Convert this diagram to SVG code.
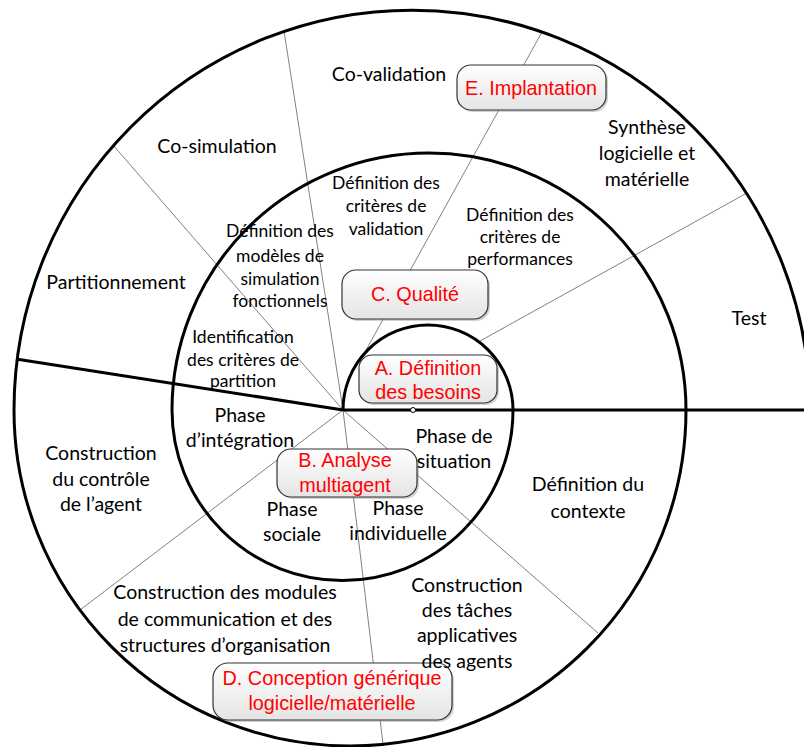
<svg xmlns="http://www.w3.org/2000/svg" width="804" height="747" viewBox="0 0 804 747">
<defs>
<linearGradient id="boxg" x1="0" y1="0" x2="0" y2="1">
<stop offset="0" stop-color="#ffffff"/>
<stop offset="1" stop-color="#e4e4e4"/>
</linearGradient>
</defs>
<style>
.thin{stroke:#808080;stroke-width:1;fill:none}
.thick{stroke:#000;stroke-width:3;fill:none}
.box{fill:url(#boxg);stroke:#333;stroke-width:1.2}
.shadow{fill:#9a9a9a;opacity:0.45}
.lbl{font-family:"Liberation Sans",Arial,sans-serif;font-size:19.8px;fill:#ff0000;text-anchor:middle}
.t{font-family:Lato,"Open Sans",sans-serif;font-size:19.5px;fill:#000;text-anchor:middle}
.m{font-family:Lato,"Open Sans",sans-serif;font-size:17.5px;fill:#000;text-anchor:middle}
</style>
<rect width="804" height="747" fill="#fff"/>
<g id="connectors">
<line class="thin" x1="343" y1="410" x2="113" y2="145"/>
<line class="thin" x1="343" y1="410" x2="284" y2="31"/>
<line class="thin" x1="542" y1="32" x2="360" y2="361"/>
<line class="thin" x1="747" y1="193" x2="480" y2="341"/>
<line class="thin" x1="343" y1="410" x2="80" y2="610"/>
<line class="thin" x1="343" y1="410" x2="383" y2="744"/>
<line class="thin" x1="343" y1="410" x2="598" y2="633"/>
<path class="thick" d="M343 410 A85 85 0 0 1 513 410 A170.5 170.5 0 0 1 172 410 A257 257 0 0 1 686 410 A336 336 0 0 1 14 410 A398 400 0 0 1 810 410"/>
<line class="thick" x1="343" y1="410" x2="806" y2="410"/>
<line class="thick" x1="343" y1="410" x2="16" y2="359"/>
<circle cx="413" cy="410" r="2.5" fill="#fff" stroke="#000" stroke-width="1"/>
</g>
<g id="nodeE">
<rect class="shadow" x="459" y="67" width="149" height="45" rx="14"/>
<rect class="box" x="457" y="65" width="149" height="45" rx="14"/>
<text class="lbl" x="531" y="95">E. Implantation</text>
</g>
<g id="nodeC">
<rect class="shadow" x="344" y="272" width="146" height="49" rx="14"/>
<rect class="box" x="342" y="270" width="146" height="49" rx="14"/>
<text class="lbl" x="415" y="301">C. Qualité</text>
</g>
<g id="nodeA">
<rect class="shadow" x="361" y="357" width="138" height="48" rx="13"/>
<rect class="box" x="359" y="355" width="138" height="48" rx="13"/>
<text class="lbl" x="428" y="375">A. Définition</text>
<text class="lbl" x="428" y="399">des besoins</text>
</g>
<g id="nodeB">
<rect class="shadow" x="279" y="451" width="140" height="48" rx="14"/>
<rect class="box" x="277" y="449" width="140" height="48" rx="14"/>
<text class="lbl" x="345" y="467">B. Analyse</text>
<text class="lbl" x="345" y="492">multiagent</text>
</g>
<g id="nodeD">
<rect class="shadow" x="215" y="665" width="239" height="57" rx="15"/>
<rect class="box" x="213" y="663" width="239" height="57" rx="15"/>
<text class="lbl" x="332" y="685">D. Conception générique</text>
<text class="lbl" x="332" y="710">logicielle/matérielle</text>
</g>
<g id="outer-labels">
<text class="t" x="389" y="81">Co-validation</text>
<text class="t" x="217" y="153">Co-simulation</text>
<text class="t" x="116" y="289">Partitionnement</text>
<text class="t" x="647" y="134">Synthèse</text>
<text class="t" x="647" y="160">logicielle et</text>
<text class="t" x="647" y="186">matérielle</text>
<text class="t" x="749" y="325">Test</text>
<text class="t" x="101" y="460">Construction</text>
<text class="t" x="101" y="486">du contrôle</text>
<text class="t" x="101" y="511">de l’agent</text>
<text class="t" x="588" y="491">Définition du</text>
<text class="t" x="588" y="518">contexte</text>
<text class="t" x="225" y="599">Construction des modules</text>
<text class="t" x="225" y="626">de communication et des</text>
<text class="t" x="225" y="652">structures d’organisation</text>
<text class="t" x="467" y="592">Construction</text>
<text class="t" x="467" y="617">des tâches</text>
<text class="t" x="467" y="642">applicatives</text>
<text class="t" x="467" y="668">des agents</text>
</g>
<g id="middle-labels">
<text class="m" x="386" y="189">Définition des</text>
<text class="m" x="386" y="212">critères de</text>
<text class="m" x="386" y="235">validation</text>
<text class="m" x="520" y="221">Définition des</text>
<text class="m" x="520" y="243">critères de</text>
<text class="m" x="520" y="265">performances</text>
<text class="m" x="280" y="237">Définition des</text>
<text class="m" x="280" y="262">modèles de</text>
<text class="m" x="280" y="285">simulation</text>
<text class="m" x="280" y="307">fonctionnels</text>
<text class="m" x="243" y="343">Identification</text>
<text class="m" x="243" y="366">des critères de</text>
<text class="m" x="243" y="387">partition</text>
</g>
<g id="inner-labels">
<text class="t" x="240" y="422">Phase</text>
<text class="t" x="240" y="447">d’intégration</text>
<text class="t" x="454" y="443">Phase de</text>
<text class="t" x="454" y="468">situation</text>
<text class="t" x="398" y="515">Phase</text>
<text class="t" x="398" y="540">individuelle</text>
<text class="t" x="292" y="516">Phase</text>
<text class="t" x="292" y="541">sociale</text>
</g>
</svg>
